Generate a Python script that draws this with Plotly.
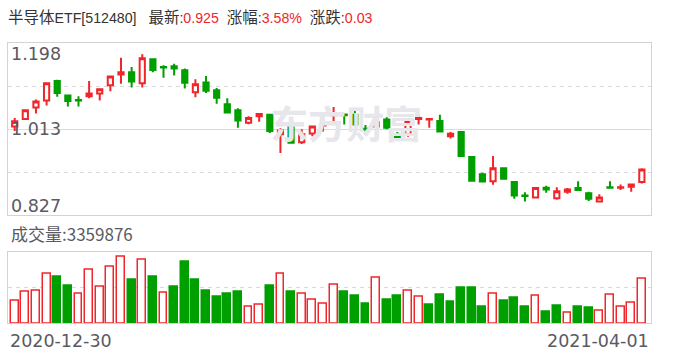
import plotly.graph_objects as go

# ---------------- data ----------------
title_name_cn = "半导体"
title_name_code = "ETF[512480]"
latest = "0.925"
pct_change = "3.58%"
abs_change = "0.03"
x_labels = ["2020-12-30", "2021-04-01"]
y_labels = [0.827, 1.013, 1.198]
prev_close_start = 1.010

open_ = [1.018, 1.034, 1.059, 1.074, 1.116, 1.085, 1.075, 1.083, 1.089, 1.107,
         1.130, 1.135, 1.111, 1.163, 1.146, 1.148, 1.139, 1.092, 1.113, 1.096,
         1.066, 1.053, 1.026, 1.040, 1.043, 1.001, 1.017, 0.984, 1.003, 1.020,
         1.042, 1.044, 1.043, 1.013, 1.018, 1.033, 1.000, 1.001, 1.034, 1.033,
         1.030, 0.997, 1.006, 0.952, 0.915, 0.900, 0.928, 0.898, 0.869, 0.865,
         0.886, 0.863, 0.877, 0.885, 0.874, 0.856, 0.887, 0.886, 0.888, 0.898]
high = [1.036, 1.053, 1.076, 1.111, 1.119, 1.085, 1.083, 1.116, 1.098, 1.126,
        1.166, 1.146, 1.174, 1.165, 1.150, 1.153, 1.143, 1.120, 1.127, 1.101,
        1.079, 1.057, 1.040, 1.045, 1.043, 1.014, 1.017, 1.012, 1.018, 1.021,
        1.060, 1.044, 1.054, 1.021, 1.051, 1.038, 1.006, 1.029, 1.041, 1.034,
        1.043, 1.006, 1.008, 0.953, 0.918, 0.954, 0.928, 0.898, 0.876, 0.887,
        0.890, 0.887, 0.885, 0.900, 0.877, 0.872, 0.900, 0.893, 0.893, 0.928]
low = [1.008, 1.034, 1.046, 1.063, 1.082, 1.061, 1.061, 1.079, 1.074, 1.094,
       1.110, 1.102, 1.102, 1.135, 1.123, 1.128, 1.100, 1.081, 1.090, 1.067,
       1.046, 1.015, 1.023, 1.028, 1.004, 0.961, 0.983, 0.980, 0.997, 1.007,
       1.028, 1.022, 1.022, 1.000, 1.015, 1.012, 0.990, 0.996, 1.022, 1.015,
       1.005, 0.992, 0.953, 0.899, 0.897, 0.892, 0.903, 0.862, 0.856, 0.865,
       0.875, 0.860, 0.873, 0.880, 0.857, 0.854, 0.884, 0.881, 0.877, 0.895]
close = [1.029, 1.053, 1.072, 1.111, 1.090, 1.073, 1.074, 1.089, 1.098, 1.126,
         1.135, 1.115, 1.165, 1.140, 1.145, 1.143, 1.112, 1.109, 1.095, 1.080,
         1.048, 1.031, 1.036, 1.045, 1.008, 1.009, 0.983, 1.001, 1.018, 1.021,
         1.046, 1.042, 1.022, 1.012, 1.027, 1.015, 0.990, 1.029, 1.036, 1.034,
         1.007, 1.002, 0.954, 0.901, 0.899, 0.928, 0.905, 0.869, 0.868, 0.885,
         0.882, 0.878, 0.882, 0.881, 0.862, 0.865, 0.886, 0.887, 0.893, 0.925]
volume = [1693000, 2375000, 2450000, 3739000, 3537000, 2855000, 2223000, 4042000, 2754000, 4269000,
          5027000, 3309000, 4800000, 3537000, 2299000, 2779000, 4598000, 3309000, 2476000, 2021000,
          2248000, 2400000, 1238000, 1389000, 2855000, 3739000, 2400000, 2223000, 1768000, 1465000,
          2905000, 2400000, 2097000, 1490000, 3436000, 1794000, 2097000, 2450000, 1996000, 1415000,
          2173000, 1642000, 2703000, 2703000, 1263000, 2248000, 1718000, 1945000, 1263000, 2072000,
          884000, 1339000, 808000, 1263000, 1187000, 935000, 2147000, 1238000, 1516000, 3359876]
vol_max = 5380000

# ---------------- style ----------------
RED = "#f0262a"
GREEN = "#009f00"
GRID = "#dadade"
BORDER = "#d2d2d8"
TXT = "#5a5a62"

idx = list(range(len(close)))
prev = [prev_close_start] + close[:-1]
up = [c >= p for c, p in zip(close, prev)]
vol_fill = ["white" if u else GREEN for u in up]
vol_line = [RED if u else GREEN for u in up]

fig = go.Figure()

# watermark (beneath candles)
fig.add_trace(go.Scatter(
    x=[31.2], y=[y_labels[1]], mode="text", text=["东方财富"],
    textfont=dict(family="Noto Sans CJK SC", size=38, color="#e6e6eb", weight="bold"),
    hoverinfo="skip", showlegend=False, xaxis="x", yaxis="y"))

fig.add_trace(go.Candlestick(
    x=idx, open=open_, high=high, low=low, close=close,
    increasing=dict(line=dict(color=RED, width=2), fillcolor="white"),
    decreasing=dict(line=dict(color=GREEN, width=2), fillcolor=GREEN),
    whiskerwidth=0, showlegend=False, xaxis="x", yaxis="y"))

fig.add_trace(go.Bar(
    x=idx, y=volume, width=0.74,
    marker=dict(color=vol_fill, line=dict(color=vol_line, width=1.5)),
    showlegend=False, xaxis="x2", yaxis="y2"))

ymin, ymax = y_labels[0], y_labels[-1]
ymid = (ymin + ymax) / 2
q1 = ymin + (ymax - ymin) / 4
q3 = ymin + 3 * (ymax - ymin) / 4
xr = [-0.63, len(close) - 1 + 0.86]

x_dom = [8 / 688, 651 / 688]
fig.update_layout(
    width=688, height=360,
    margin=dict(l=0, r=0, t=0, b=0),
    paper_bgcolor="white", plot_bgcolor="white",
    boxgap=0.3,
    bargap=0,
    xaxis=dict(domain=x_dom, range=xr, showgrid=False, zeroline=False,
               showticklabels=False, showline=True, mirror=True,
               linecolor=BORDER, linewidth=1, rangeslider=dict(visible=False),
               anchor="y"),
    yaxis=dict(domain=[145 / 360, 317 / 360], range=[ymin, ymax],
               tickvals=[ymid], showticklabels=False, ticks="",
               showgrid=True, gridcolor=GRID, gridwidth=1,
               minor=dict(tickvals=[q1, q3], showgrid=True, gridcolor=GRID,
                          griddash="4px,4px", gridwidth=1, ticks=""),
               zeroline=False, showline=True, mirror=True,
               linecolor=BORDER, linewidth=1, anchor="x"),
    xaxis2=dict(domain=x_dom, range=xr, showgrid=False, zeroline=False,
                showticklabels=False, showline=True, mirror=True,
                linecolor=BORDER, linewidth=1, anchor="y2"),
    yaxis2=dict(domain=[36.7 / 360, 108.3 / 360], range=[0, vol_max],
                tickvals=[vol_max / 2], showticklabels=False, ticks="",
                showgrid=True, gridcolor=GRID, griddash="4px,4px",
                zeroline=False, showline=True, mirror=True,
                linecolor=BORDER, linewidth=1, anchor="x2"),
    font=dict(family="DejaVu Sans", color=TXT),
)

cn = "font-size:15.5px"
ann = []
# title
ann.append(dict(
    xref="paper", yref="paper", x=6 / 688, y=1 - 17 / 360,
    xanchor="left", yanchor="middle", showarrow=False,
    font=dict(family="Liberation Sans, Noto Sans CJK SC", size=14.2, color="#333333"),
    text=(f"<span style='{cn}'>{title_name_cn}</span>{title_name_code}&nbsp;&nbsp;&nbsp;"
          f"<span style='{cn}'>最新</span>:<span style='color:{RED}'>{latest}</span>"
          f"&nbsp;&nbsp;<span style='{cn}'>涨幅</span>:<span style='color:{RED}'>{pct_change}</span>"
          f"&nbsp;&nbsp;<span style='{cn}'>涨跌</span>:<span style='color:{RED}'>{abs_change}</span>")))
# price labels
anchors = ["bottom", "middle", "top"]
shifts = [-3, 0, 1]
for v, a, s in zip(y_labels, anchors, shifts):
    ann.append(dict(xref="x domain", yref="y", x=0, y=v, xanchor="left",
                    yanchor=a, showarrow=False, xshift=1, yshift=s,
                    text=f"{v:.3f}",
                    font=dict(family="DejaVu Sans", size=17.5, color=TXT)))
# volume label
ann.append(dict(xref="paper", yref="paper", x=9 / 688, y=1 - 233 / 360,
                xanchor="left", yanchor="middle", showarrow=False,
                text=f"成交量:{volume[-1]}",
                font=dict(family="Noto Sans CJK SC, DejaVu Sans", size=17, color=TXT)))
# date labels
ann.append(dict(xref="x2 domain", yref="paper", x=0, y=1 - 341 / 360,
                xanchor="left", yanchor="middle", showarrow=False,
                text=x_labels[0], font=dict(family="DejaVu Sans", size=17.5, color=TXT)))
ann.append(dict(xref="x2 domain", yref="paper", x=1, y=1 - 341 / 360,
                xanchor="right", yanchor="middle", showarrow=False,
                text=x_labels[1], font=dict(family="DejaVu Sans", size=17.5, color=TXT)))
fig.update_layout(annotations=ann)

fig.write_html("out.html", config={"displayModeBar": False},
               post_script="document.body.style.margin='0';")
